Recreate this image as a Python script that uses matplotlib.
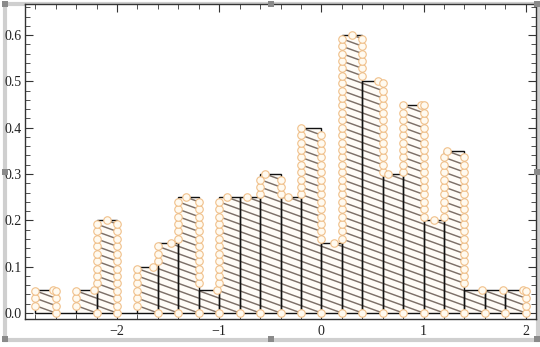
import numpy as np
import matplotlib
matplotlib.use("Agg")
import matplotlib.pyplot as plt
from matplotlib.lines import Line2D
from matplotlib.patches import Rectangle

# histogram data (bin width 0.2, density)
bin_edges = [round(-2.8 + 0.2 * i, 1) for i in range(25)]
heights = [0.05, 0.0, 0.05, 0.2, 0.0, 0.1, 0.15, 0.25, 0.05, 0.25, 0.25, 0.3,
           0.25, 0.4, 0.15, 0.6, 0.5, 0.3, 0.45, 0.2, 0.35, 0.05, 0.05, 0.05]

xticks = [-2, -1, 0, 1, 2]
xtick_labels = ["\u22122", "\u22121", "0", "1", "2"]
yticks = [0.0, 0.1, 0.2, 0.3, 0.4, 0.5, 0.6]
ytick_labels = ["0.0", "0.1", "0.2", "0.3", "0.4", "0.5", "0.6"]

spacing = 0.016  # vertical step of the hatch pattern
fill_col = "#fffcf7"
hatch_col = "#7d7068"
ring_face = "#fffaf0"
ring_edge = "#f0c08a"

plt.rcParams["font.family"] = ["Liberation Serif", "DejaVu Serif"]

fig = plt.figure(figsize=(5.4, 3.47), dpi=100)
ax = fig.add_axes([25 / 540, 1 - 319 / 347, 511 / 540, 315 / 347])

lefts = np.array(bin_edges[:-1])
widths = np.diff(bin_edges)
ax.bar(lefts, heights, width=widths, align="edge", color=fill_col,
       edgecolor="none", zorder=1)

circ_x, circ_y = [], []
for i, h in enumerate(heights):
    if h <= 0:
        continue
    x0, x1 = bin_edges[i], bin_edges[i + 1]
    w = x1 - x0
    hl = heights[i - 1] if i > 0 else 0.0
    hr = heights[i + 1] if i + 1 < len(heights) else 0.0
    k = 1
    while (k - 1) * spacing < h - 1e-9:
        yl, yr = k * spacing, (k - 1) * spacing
        if yl <= h:
            sx, sy = x0, yl
            if yl > hl + 1e-9:
                circ_x.append(sx); circ_y.append(sy)
        else:
            t = k - h / spacing
            sx, sy = x0 + t * w, h
            circ_x.append(sx); circ_y.append(sy)
        ax.plot([sx, x1], [sy, yr], color=hatch_col, lw=1.05, zorder=2,
                solid_capstyle="butt")
        if yr > hr + 1e-9 or yr < 1e-9:
            circ_x.append(x1); circ_y.append(yr)
        k += 1

# bar outlines
ax.bar(lefts, heights, width=widths, align="edge", color="none",
       edgecolor="#111111", linewidth=1.0, zorder=3)

ax.plot(circ_x, circ_y, linestyle="none", marker="o", markersize=5.4,
        markerfacecolor=ring_face, markeredgecolor=ring_edge,
        markeredgewidth=0.8, zorder=4, clip_on=False)

ax.set_xlim(-2.9, 2.1)
ax.set_ylim(-0.013, 0.667)

ax.set_xticks(xticks)
ax.set_xticklabels(xtick_labels)
ax.set_xticks(np.arange(-2.8, 2.01, 0.2), minor=True)
ax.set_yticks(yticks)
ax.set_yticklabels(ytick_labels)
ax.set_yticks(np.arange(0, 0.661, 0.02), minor=True)

ax.tick_params(which="both", direction="in", top=True, right=True,
               colors="#333333", labelsize=10)
ax.tick_params(which="major", length=6, width=0.8)
ax.tick_params(which="minor", length=3.5, width=0.6)
ax.tick_params(axis="x", pad=4, labelcolor="#222222")
ax.tick_params(axis="y", pad=2.5, labelcolor="#222222")
for s in ax.spines.values():
    s.set_color("#333333")
    s.set_linewidth(1.0)

# selection frame around the graphic
W, H = 540, 347
frame = "#cfcfcf"
def fx(p):
    return p / W
def fy(p):
    return 1 - p / H
for (xa, ya, xb, yb) in [(5, 3.5, 537, 3.5), (5, 339.5, 537, 339.5),
                         (5, 3.5, 5, 339.5), (537.5, 3.5, 537.5, 339.5)]:
    fig.add_artist(Line2D([fx(xa), fx(xb)], [fy(ya), fy(yb)], color=frame,
                          lw=3, zorder=0))
for (hx, hy) in [(5, 4), (271, 4), (537, 4), (5, 172), (537, 172),
                 (5, 339), (271, 339), (537, 339)]:
    fig.add_artist(Rectangle((fx(hx - 3), fy(hy + 3)), 6 / W, 6 / H,
                             facecolor="#8a8a8a", edgecolor="none", zorder=5))

fig.savefig("out.png", dpi=100)
